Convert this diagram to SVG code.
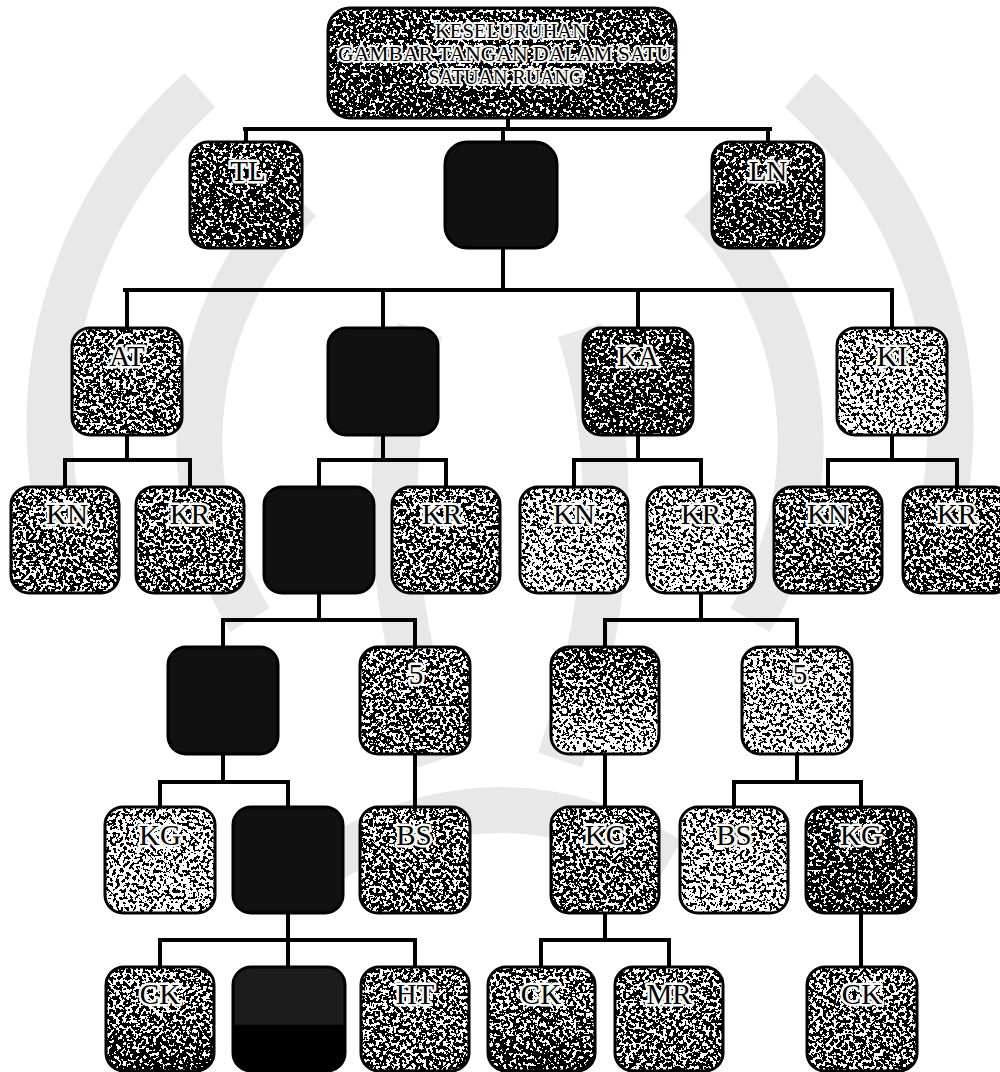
<svg xmlns="http://www.w3.org/2000/svg" width="1000" height="1072" viewBox="0 0 1000 1072">
<style>
.box{stroke:none;filter:url(#grain)}
.frame{fill:none;stroke:#000;stroke-width:3}
.solid{fill:#111;stroke:#000;stroke-width:3}
.lbl{font-family:"Liberation Serif","Times New Roman",serif;font-size:29px;fill:#000;stroke:#fff;stroke-width:5px;paint-order:stroke;stroke-linejoin:round;text-anchor:middle}
.ttl{font-family:"Liberation Serif","Times New Roman",serif;font-size:22px;fill:#000;stroke:#fff;stroke-width:4px;paint-order:stroke;stroke-linejoin:round;text-anchor:middle}
.conn{fill:none;stroke:#000;stroke-width:4;stroke-linecap:square}
.wm{fill:none;stroke:#e8e8e8;stroke-width:46}
</style>
<defs>
<filter id="grain" x="0" y="0" width="100%" height="100%" color-interpolation-filters="sRGB">
<feTurbulence type="fractalNoise" baseFrequency="0.3" numOctaves="2" seed="7" result="n"/>
<feColorMatrix in="n" type="matrix" values="2.4 0 0 0 -0.7 2.4 0 0 0 -0.7 2.4 0 0 0 -0.7 0 0 0 0 1" result="ng"/>
<feComposite in="SourceGraphic" in2="ng" operator="arithmetic" k1="0" k2="1" k3="1" k4="-0.5" result="s"/>
<feComponentTransfer in="s" result="t">
<feFuncR type="discrete" tableValues="0 1"/>
<feFuncG type="discrete" tableValues="0 1"/>
<feFuncB type="discrete" tableValues="0 1"/>
<feFuncA type="linear" slope="0" intercept="1"/>
</feComponentTransfer>
<feComposite in="t" in2="SourceAlpha" operator="in"/>
</filter>
<linearGradient id="gDark" x1="0" y1="0" x2="0" y2="1"><stop offset="0" stop-color="#5e5e5e"/><stop offset="1" stop-color="#4e4e4e"/></linearGradient>
<linearGradient id="gMid" x1="0" y1="0" x2="0" y2="1"><stop offset="0" stop-color="#787878"/><stop offset="1" stop-color="#6c6c6c"/></linearGradient>
<linearGradient id="gLight" x1="0" y1="0" x2="0" y2="1"><stop offset="0" stop-color="#8a8a8a"/><stop offset="1" stop-color="#9c9c9c"/></linearGradient>
<linearGradient id="gFade" x1="0" y1="0" x2="0" y2="1"><stop offset="0" stop-color="#5c5c5c"/><stop offset="1" stop-color="#a6a6a6"/></linearGradient>
<linearGradient id="gSink" x1="0" y1="0" x2="0" y2="1"><stop offset="0" stop-color="#7c7c7c"/><stop offset="0.55" stop-color="#6e6e6e"/><stop offset="1" stop-color="#464646"/></linearGradient>
<linearGradient id="gBlack" x1="0" y1="0" x2="0" y2="1"><stop offset="0" stop-color="#1c1c1c"/><stop offset="0.55" stop-color="#1c1c1c"/><stop offset="0.56" stop-color="#000"/><stop offset="1" stop-color="#000"/></linearGradient>
</defs>
<rect width="1000" height="1072" fill="#fff"/>

<g id="watermark">
<path class="wm" d="M200 90A450 450 0 0 0 70 560"/>
<path class="wm" d="M800 90A450 450 0 0 1 930 560"/>
<path class="wm" d="M300 200A340 340 0 0 0 250 620"/>
<path class="wm" d="M700 200A340 340 0 0 1 750 620"/>
<path class="wm" d="M420 330Q360 520 440 760"/>
<path class="wm" d="M580 330Q640 520 560 760"/>
<path class="wm" d="M330 860Q500 760 670 860"/>
</g>

<g id="connectors">
<path class="conn" d="M508 118V129M245 129H770M246 129V142M768 129V142M503 129V142"/>
<path class="conn" d="M503 248V290M125 290H892M127 290V328M383 290V328M638 290V328M892 290V328"/>
<path class="conn" d="M127 435V460M65 460H190M65 460V487M190 460V487"/>
<path class="conn" d="M383 435V460M319 460H446M319 460V487M446 460V487"/>
<path class="conn" d="M638 435V460M574 460H701M574 460V487M701 460V487"/>
<path class="conn" d="M892 435V460M828 460H957M828 460V487M957 460V487"/>
<path class="conn" d="M319 593V620M223 620H415M223 620V647M415 620V647"/>
<path class="conn" d="M701 593V620M605 620H797M605 620V647M797 620V647"/>
<path class="conn" d="M223 754V782M160 782H288M160 782V807M288 782V807"/>
<path class="conn" d="M415 754V807M605 754V807"/>
<path class="conn" d="M797 754V782M734 782H861M734 782V807M861 782V807"/>
<path class="conn" d="M288 913V940M160 940H415M160 940V967M288 940V967M415 940V967"/>
<path class="conn" d="M605 913V940M541 940H669M541 940V967M669 940V967"/>
<path class="conn" d="M861 913V967"/>
</g>

<g id="root">
<rect class="box" x="328" y="8" width="348" height="110" rx="22" fill="url(#gDark)"/>
<rect class="frame" x="328" y="8" width="348" height="110" rx="22"/>
<text class="ttl" x="511" y="38" textLength="152" lengthAdjust="spacingAndGlyphs">KESELURUHAN</text>
<text class="ttl" x="505" y="61" textLength="334" lengthAdjust="spacingAndGlyphs">GAMBAR TANGAN DALAM SATU</text>
<text class="ttl" x="506" y="84" textLength="155" lengthAdjust="spacingAndGlyphs">SATUAN RUANG</text>
</g>

<g id="n-TL"><rect class="box" x="190" y="142" width="112" height="106" rx="18" fill="url(#gDark)"/><rect class="frame" x="190" y="142" width="112" height="106" rx="18"/><text class="lbl" x="248" y="181">TL</text></g>
<g id="n-b1"><rect class="solid" x="445" y="142" width="112" height="106" rx="22"/></g>
<g id="n-LN"><rect class="box" x="712" y="142" width="112" height="106" rx="18" fill="url(#gDark)"/><rect class="frame" x="712" y="142" width="112" height="106" rx="18"/><text class="lbl" x="768" y="181">LN</text></g>

<g id="n-AT"><rect class="box" x="72" y="328" width="110" height="107" rx="18" fill="url(#gMid)"/><rect class="frame" x="72" y="328" width="110" height="107" rx="18"/><text class="lbl" x="127" y="366">AT</text></g>
<g id="n-b2"><rect class="solid" x="328" y="328" width="110" height="107" rx="18"/></g>
<g id="n-KA"><rect class="box" x="583" y="328" width="110" height="107" rx="18" fill="url(#gDark)"/><rect class="frame" x="583" y="328" width="110" height="107" rx="18"/><text class="lbl" x="638" y="366">KA</text></g>
<g id="n-KI"><rect class="box" x="837" y="328" width="110" height="107" rx="18" fill="url(#gLight)"/><rect class="frame" x="837" y="328" width="110" height="107" rx="18"/><text class="lbl" x="892" y="366">KI</text></g>

<g id="n-KN1"><rect class="box" x="11" y="487" width="108" height="106" rx="18" fill="url(#gMid)"/><rect class="frame" x="11" y="487" width="108" height="106" rx="18"/><text class="lbl" x="67" y="524">KN</text></g>
<g id="n-KR1"><rect class="box" x="136" y="487" width="108" height="106" rx="18" fill="url(#gMid)"/><rect class="frame" x="136" y="487" width="108" height="106" rx="18"/><text class="lbl" x="190" y="524">KR</text></g>
<g id="n-b3"><rect class="solid" x="264" y="487" width="110" height="106" rx="18"/></g>
<g id="n-KR2"><rect class="box" x="392" y="487" width="108" height="106" rx="18" fill="url(#gMid)"/><rect class="frame" x="392" y="487" width="108" height="106" rx="18"/><text class="lbl" x="442" y="524">KR</text></g>
<g id="n-KN2"><rect class="box" x="520" y="487" width="108" height="106" rx="18" fill="url(#gLight)"/><rect class="frame" x="520" y="487" width="108" height="106" rx="18"/><text class="lbl" x="574" y="524">KN</text></g>
<g id="n-KR3"><rect class="box" x="647" y="487" width="108" height="106" rx="18" fill="url(#gLight)"/><rect class="frame" x="647" y="487" width="108" height="106" rx="18"/><text class="lbl" x="701" y="524">KR</text></g>
<g id="n-KN3"><rect class="box" x="774" y="487" width="108" height="106" rx="18" fill="url(#gMid)"/><rect class="frame" x="774" y="487" width="108" height="106" rx="18"/><text class="lbl" x="828" y="524">KN</text></g>
<g id="n-KR4"><rect class="box" x="903" y="487" width="108" height="106" rx="18" fill="url(#gMid)"/><rect class="frame" x="903" y="487" width="108" height="106" rx="18"/><text class="lbl" x="957" y="524">KR</text></g>

<g id="n-b4"><rect class="solid" x="168" y="647" width="110" height="107" rx="18"/></g>
<g id="n-5a"><rect class="box" x="360" y="647" width="110" height="107" rx="18" fill="url(#gMid)"/><rect class="frame" x="360" y="647" width="110" height="107" rx="18"/><text class="lbl" x="416" y="684">5</text></g>
<g id="n-e1"><rect class="box" x="551" y="647" width="108" height="107" rx="18" fill="url(#gFade)"/><rect class="frame" x="551" y="647" width="108" height="107" rx="18"/></g>
<g id="n-5b"><rect class="box" x="742" y="647" width="110" height="107" rx="18" fill="url(#gLight)"/><rect class="frame" x="742" y="647" width="110" height="107" rx="18"/><text class="lbl" x="800" y="684">5</text></g>

<g id="n-KG1"><rect class="box" x="105" y="807" width="110" height="106" rx="18" fill="url(#gLight)"/><rect class="frame" x="105" y="807" width="110" height="106" rx="18"/><text class="lbl" x="160" y="845">KG</text></g>
<g id="n-b5"><rect class="solid" x="233" y="807" width="110" height="106" rx="18"/></g>
<g id="n-BS1"><rect class="box" x="360" y="807" width="110" height="106" rx="18" fill="url(#gMid)"/><rect class="frame" x="360" y="807" width="110" height="106" rx="18"/><text class="lbl" x="414" y="845">BS</text></g>
<g id="n-KC"><rect class="box" x="551" y="807" width="108" height="106" rx="18" fill="url(#gMid)"/><rect class="frame" x="551" y="807" width="108" height="106" rx="18"/><text class="lbl" x="605" y="845">KC</text></g>
<g id="n-BS2"><rect class="box" x="680" y="807" width="108" height="106" rx="18" fill="url(#gLight)"/><rect class="frame" x="680" y="807" width="108" height="106" rx="18"/><text class="lbl" x="734" y="845">BS</text></g>
<g id="n-KG2"><rect class="box" x="806" y="807" width="110" height="106" rx="18" fill="url(#gDark)"/><rect class="frame" x="806" y="807" width="110" height="106" rx="18"/><text class="lbl" x="861" y="845">KG</text></g>

<g id="n-CK1"><rect class="box" x="106" y="967" width="108" height="104" rx="18" fill="url(#gSink)"/><rect class="frame" x="106" y="967" width="108" height="104" rx="18"/><text class="lbl" x="160" y="1004">CK</text></g>
<g id="n-b6"><rect x="233" y="967" width="112" height="104" rx="18" fill="url(#gBlack)" stroke="#000" stroke-width="3"/></g>
<g id="n-HT"><rect class="box" x="361" y="967" width="108" height="104" rx="18" fill="url(#gMid)"/><rect class="frame" x="361" y="967" width="108" height="104" rx="18"/><text class="lbl" x="415" y="1004">HT</text></g>
<g id="n-CK2"><rect class="box" x="488" y="967" width="107" height="104" rx="18" fill="url(#gSink)"/><rect class="frame" x="488" y="967" width="107" height="104" rx="18"/><text class="lbl" x="541" y="1004">CK</text></g>
<g id="n-MR"><rect class="box" x="615" y="967" width="108" height="104" rx="18" fill="url(#gMid)"/><rect class="frame" x="615" y="967" width="108" height="104" rx="18"/><text class="lbl" x="669" y="1004">MR</text></g>
<g id="n-CK3"><rect class="box" x="807" y="967" width="110" height="104" rx="18" fill="url(#gMid)"/><rect class="frame" x="807" y="967" width="110" height="104" rx="18"/><text class="lbl" x="862" y="1004">CK</text></g>
</svg>
